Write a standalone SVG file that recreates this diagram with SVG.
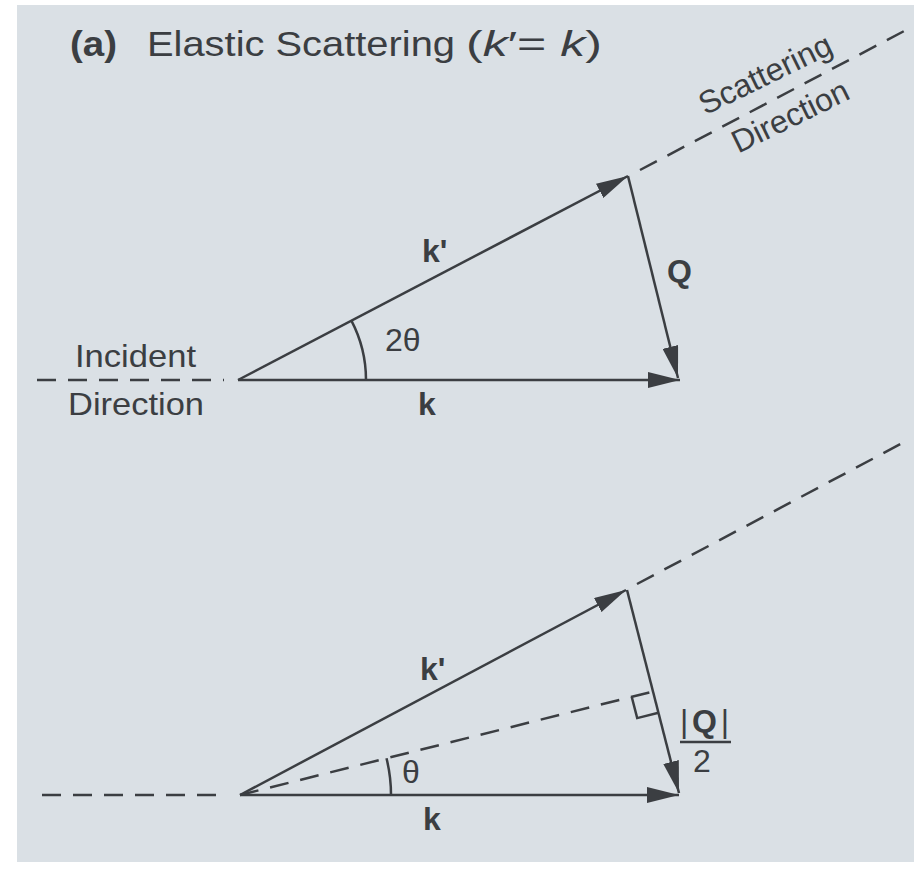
<svg xmlns="http://www.w3.org/2000/svg" width="914" height="871" viewBox="0 0 914 871">
  <style>
    .ln { stroke: #3b3e42; stroke-width: 2.5; fill: none; }
    .ds { stroke: #3b3e42; stroke-width: 2.5; fill: none; stroke-dasharray: 19 12; }
    .t { font-family: "Liberation Sans", Arial, Helvetica, sans-serif; fill: #3b3e42; font-size: 32px; }
    .h { font-size: 35px; }
    .b { font-weight: bold; }
    .n { font-weight: normal; }
    .i { font-style: italic; }
  </style>
  <defs>
    <marker id="ah" viewBox="0 0 32 16" markerWidth="32" markerHeight="16" refX="32" refY="8" orient="auto" markerUnits="userSpaceOnUse">
      <path d="M0,0 L32,8 L0,16 z" fill="#3b3e42"/>
    </marker>
  </defs>
  <rect x="0" y="0" width="914" height="871" fill="#ffffff"/>
  <rect x="17" y="5" width="897" height="857" fill="#dae0e5"/>

  <g id="title">
    <text class="t h b" x="70" y="56" textLength="47" lengthAdjust="spacingAndGlyphs">(a)</text>
    <text class="t h" x="147" y="56" textLength="308" lengthAdjust="spacingAndGlyphs">Elastic Scattering</text>
    <text class="t h" x="466" y="56" textLength="136" lengthAdjust="spacingAndGlyphs">(<tspan class="i">k</tspan>′= <tspan class="i">k</tspan>)</text>
  </g>

  <g id="connectors">
    <!-- top triangle -->
    <line class="ds" x1="37" y1="380" x2="224" y2="380"/>
    <line class="ln" x1="238" y1="380" x2="680" y2="380" marker-end="url(#ah)"/>
    <line class="ln" x1="238" y1="380" x2="628" y2="176" marker-end="url(#ah)"/>
    <line class="ln" x1="628" y1="176" x2="678" y2="378" marker-end="url(#ah)"/>
    <line class="ds" x1="640" y1="170" x2="908" y2="29"/>
    <path class="ln" d="M366,380 A128,128 0 0 0 351.4,320.7"/>

    <!-- bottom triangle -->
    <line class="ds" x1="42" y1="795" x2="226" y2="795"/>
    <line class="ln" x1="240" y1="795" x2="679" y2="795" marker-end="url(#ah)"/>
    <line class="ln" x1="240" y1="795" x2="626" y2="590" marker-end="url(#ah)"/>
    <line class="ln" x1="627" y1="590" x2="679" y2="793" marker-end="url(#ah)"/>
    <line class="ds" x1="637" y1="584" x2="910" y2="439"/>
    <line class="ds" x1="240" y1="795" x2="653" y2="691.5"/>
    <polyline class="ln" points="631.7,696.8 637.2,718.1 658.5,712.8"/>
    <path class="ln" d="M391,795 A151,151 0 0 0 386.5,758.3"/>
    <line class="ln" x1="680" y1="742" x2="731" y2="742"/>
  </g>

  <g id="incident-top">
    <text class="t" x="75" y="367" textLength="121" lengthAdjust="spacingAndGlyphs">Incident</text>
    <text class="t" x="68" y="415" textLength="136" lengthAdjust="spacingAndGlyphs">Direction</text>
  </g>
  <g id="scattering-top">
    <text class="t" font-size="34" text-anchor="middle" transform="translate(770,84) rotate(-26)">Scattering</text>
    <text class="t" font-size="34" text-anchor="middle" transform="translate(795,126) rotate(-26)">Direction</text>
  </g>
  <g id="labels-top">
    <text class="t b" x="422" y="262">k'</text>
    <text class="t b" x="667" y="282">Q</text>
    <text class="t" x="385" y="351">2θ</text>
    <text class="t b" x="418" y="415">k</text>
  </g>
  <g id="labels-bottom">
    <text class="t b" x="420" y="680">k'</text>
    <text class="t" x="402" y="783">θ</text>
    <text class="t b" x="423" y="830">k</text>
    <text class="t b" x="680" y="732" textLength="49" lengthAdjust="spacing"><tspan class="n">|</tspan>Q<tspan class="n">|</tspan></text>
    <text class="t" x="693" y="772">2</text>
  </g>
</svg>
